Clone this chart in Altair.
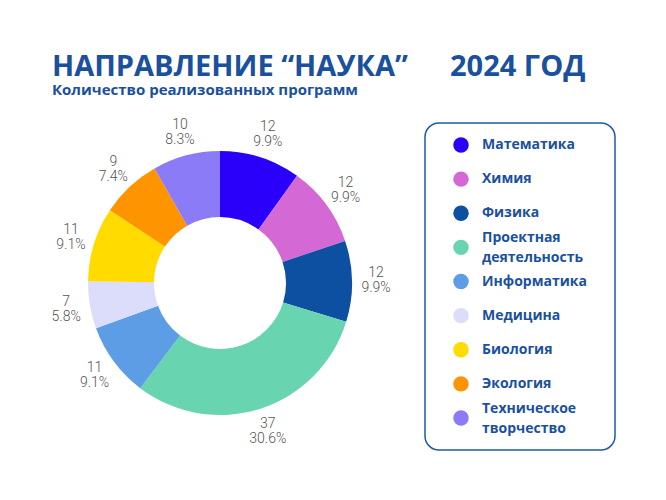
import altair as alt
import pandas as pd

categories = ["Математика", "Химия", "Физика", "Проектная деятельность", "Информатика",
              "Медицина", "Биология", "Экология", "Техническое творчество"]
legend_labels = ["Математика", "Химия", "Физика", "Проектная\nдеятельность", "Информатика",
                 "Медицина", "Биология", "Экология", "Техническое\nтворчество"]
values = [12, 12, 12, 37, 11, 7, 11, 9, 10]
colors = ["#2a00fb", "#d469d5", "#0d4fa0", "#68d5b0", "#5c9de6",
          "#dcdcfb", "#ffdb00", "#fd9400", "#8c7bf6"]

total = sum(values)
df = pd.DataFrame({
    "cat": categories,
    "legend": legend_labels,
    "value": values,
    "idx": list(range(len(categories))),
})
df["label"] = [f"{v}\n{v / total * 100:.1f}%" for v in values]
df["lines"] = [lbl.count("\n") + 1 for lbl in legend_labels]

TITLE_COLOR = "#1a509e"
color_scale = alt.Scale(domain=categories, range=colors)

base = alt.Chart(df)

pie = base.mark_arc(innerRadius=66, outerRadius=132).encode(
    theta=alt.Theta("value:Q", stack=True),
    color=alt.Color("cat:N", scale=color_scale, legend=None),
    order=alt.Order("idx:Q"),
    x=alt.value(212),
    y=alt.value(275),
)

labels = base.mark_text(
    radius=156, font="Roboto", fontWeight=300, fontSize=14, color="#555555",
    lineBreak="\n", lineHeight=15, align="center", baseline="middle", dy=-7.5,
).encode(
    theta=alt.Theta("value:Q", stack=True),
    order=alt.Order("idx:Q"),
    text="label:N",
    x=alt.value(212),
    y=alt.value(275),
)

box = alt.Chart(pd.DataFrame({"a": [0]})).mark_rect(
    fill="white", stroke="#1f5aa8", strokeWidth=1.5, cornerRadius=14,
).encode(
    x=alt.value(417), x2=alt.value(607), y=alt.value(115), y2=alt.value(442),
)

yscale = alt.Scale(type="point", domain=categories, range=[137, 410], padding=0)

dots = base.mark_circle(size=240, opacity=1).encode(
    x=alt.value(453),
    y=alt.Y("cat:N", scale=yscale, axis=None),
    color=alt.Color("cat:N", scale=color_scale, legend=None),
)

leg_text1 = base.transform_filter("datum.lines == 1").mark_text(
    font="Open Sans", fontWeight="bold", fontSize=14, color=TITLE_COLOR,
    align="left", baseline="middle",
).encode(
    x=alt.value(474),
    y=alt.Y("cat:N", scale=yscale, axis=None),
    text="legend:N",
)

leg_text2 = base.transform_filter("datum.lines == 2").mark_text(
    font="Open Sans", fontWeight="bold", fontSize=14, color=TITLE_COLOR,
    align="left", baseline="middle", lineBreak="\n", lineHeight=20, dy=-9,
).encode(
    x=alt.value(474),
    y=alt.Y("cat:N", scale=yscale, axis=None),
    text="legend:N",
)

title_df = pd.DataFrame({"a": [0]})
title1 = alt.Chart(title_df).mark_text(
    text="НАПРАВЛЕНИЕ “НАУКА”", font="Open Sans", fontWeight="bold", fontSize=29,
    color=TITLE_COLOR, align="left", baseline="alphabetic",
).encode(x=alt.value(44), y=alt.value(68))
title2 = alt.Chart(title_df).mark_text(
    text="2024 ГОД", font="Open Sans", fontWeight="bold", fontSize=29,
    color=TITLE_COLOR, align="left", baseline="alphabetic",
).encode(x=alt.value(442), y=alt.value(68))
subtitle = alt.Chart(title_df).mark_text(
    text="Количество реализованных программ", font="Open Sans", fontWeight="bold",
    fontSize=15, color=TITLE_COLOR, align="left", baseline="alphabetic",
).encode(x=alt.value(44), y=alt.value(87))

chart = alt.layer(pie, labels, box, dots, leg_text1, leg_text2, title1, title2, subtitle).properties(
    width=650, height=484, autosize=alt.AutoSizeParams(type="none"), padding=0,
).configure_view(stroke=None)

chart.save("out.html", embed_options={"renderer": "svg", "actions": False})
